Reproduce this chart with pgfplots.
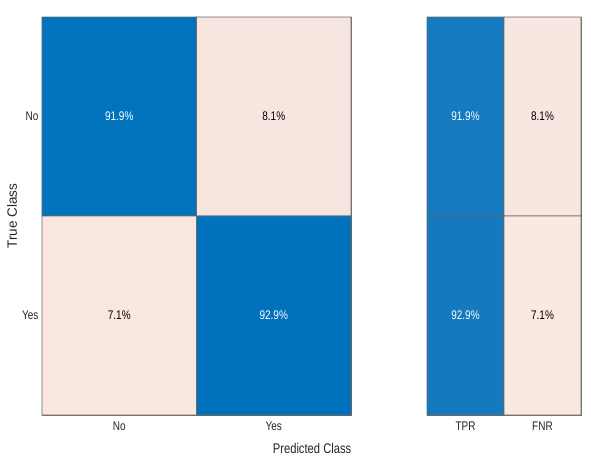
\documentclass[border=0pt]{standalone}
\usepackage{fontspec}
\setmainfont{Liberation Sans}[FakeStretch=0.8]
\newfontfamily\labelfont{Liberation Sans}
\usepackage{pgfplots}
\pgfplotsset{compat=1.18}

\definecolor{cblue}{RGB}{0,114,189}
\definecolor{cblueb}{RGB}{20,121,191}
\definecolor{cpink}{RGB}{250,231,224}
\definecolor{cedge}{RGB}{105,105,105}

\pgfplotsset{
  cm/.style={
    scale only axis,
    height=398bp,
    xmin=-0.5, xmax=1.5, ymin=-0.5, ymax=1.5,
    y dir=reverse,
    xtick={0,1},
    major tick length=0pt,
    axis line style={draw=cedge},
    tick label style={font=\fontsize{12.5bp}{15bp}\selectfont, text=black!85},
    xticklabel style={yshift=-3bp},
    clip=false,
  },
  cell/.style={matrix plot*, mesh/cols=2, point meta=explicit, draw=cedge, line width=0.6pt},
  txt/.style={draw=none, mark=none, nodes near coords, point meta=explicit symbolic,
    nodes near coords align=center,
    nodes near coords style={font=\fontsize{12.5bp}{15bp}\selectfont, text=#1}},
}

\begin{document}
\begin{tikzpicture}
\begin{axis}[cm,
  at={(0,0)}, anchor=south west,
  width=309bp,
  xticklabels={No,Yes},
  ytick={0,1}, yticklabels={No,Yes},
  colormap={lm}{rgb255=(250,231,224) rgb255=(0,114,189)},
  point meta min=7.1, point meta max=92.9,
  xlabel={Predicted Class},
  ylabel={True Class},
  xlabel style={at={(axis description cs:0.874,-0.083)}, anchor=center,
    font=\fontsize{14bp}{16bp}\selectfont, text=black!85},
  ylabel style={at={(axis description cs:-0.097,0.5)}, anchor=center,
    font=\labelfont\fontsize{13.5bp}{16bp}\selectfont, text=black!85},
]
\addplot[cell] table[meta=c] {
x y c
0 0 91.9
1 0 8.1
0 1 7.1
1 1 92.9
};
\addplot[txt=white] table[meta=t] {
x y t
0 0 91.9\%
1 1 92.9\%
};
\addplot[txt=black] table[meta=t] {
x y t
1 0 8.1\%
0 1 7.1\%
};
\end{axis}

\begin{axis}[cm,
  at={(385bp,0)}, anchor=south west,
  width=154bp,
  xticklabels={TPR,FNR},
  ytick=\empty,
  colormap={rm}{rgb255=(251,232,225) rgb255=(20,121,191)},
  point meta min=7.1, point meta max=92.9,
]
\addplot[cell] table[meta=c] {
x y c
0 0 91.9
1 0 8.1
0 1 92.9
1 1 7.1
};
\addplot[txt=white] table[meta=t] {
x y t
0 0 91.9\%
0 1 92.9\%
};
\addplot[txt=black] table[meta=t] {
x y t
1 0 8.1\%
1 1 7.1\%
};
\end{axis}
\pgfresetboundingbox
\path[use as bounding box] (-42bp,-46bp) rectangle (549bp,415bp);
\end{tikzpicture}
\end{document}
